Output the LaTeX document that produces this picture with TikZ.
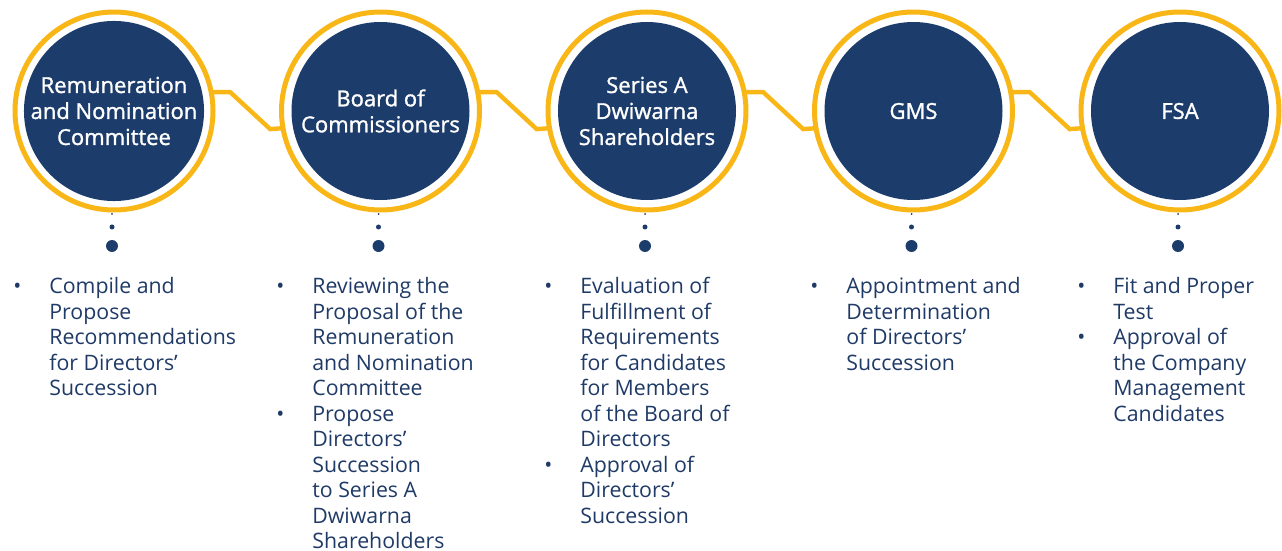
\documentclass[tikz,border=0pt]{standalone}
\usepackage{fontspec}
\setmainfont{Open Sans}
\newfontfamily\headfont[FakeBold=1.3]{Open Sans}
\definecolor{navy}{RGB}{28,60,108}
\definecolor{gold}{RGB}{248,183,22}
\definecolor{ink}{RGB}{31,58,102}
\newcommand{\bul}{\llap{\textbullet\hspace{14pt}}}

\begin{document}
\begin{tikzpicture}[x=0.5pt,y=-0.5pt,
	ring/.style={circle, draw=gold, fill=white, line width=2.5pt, minimum size=99pt, inner sep=0pt, outer sep=0pt},
	disc/.style={circle, fill=navy, minimum size=89pt, inner sep=0pt, text=white, align=center, font=\headfont\fontsize{11}{13}\selectfont},
	link/.style={draw=gold, line width=2.2pt},
	list/.style={anchor=north west, inner sep=0pt, align=left, text=ink, font=\fontsize{10.65}{12.75}\selectfont}]

	\useasboundingbox (0,0) rectangle (1282,551);

	\foreach \i/\x in {1/114, 2/380.5, 3/647, 4/913.5, 5/1180}{
		\node[ring] (r\i) at (\x,111) {};
		\fill[navy] (\x-2,214) circle (0.5pt);
		\fill[navy] (\x-2,227) circle (1.25pt);
		\fill[navy] (\x-2,246) circle (3pt);
	}

	\node[disc] (c1) at (r1) {Remuneration\\and Nomination\\Committee};
	\node[disc] (c2) at (r2) {Board of\\Commissioners};
	\node[disc] (c3) at (r3) {Series A\\Dwiwarna\\Shareholders};
	\node[disc] (c4) at (r4) {GMS};
	\node[disc] (c5) at (r5) {FSA};

	\foreach \i/\j in {1/2, 2/3, 3/4, 4/5}
		\draw[link] (r\i.11) -- ++(19,0) -- ++(40,37) -- (r\j.190);

	\node[list] (l1) at (49,277) {\bul Compile and\\Propose\\Recommendations\\for Directors’\\Succession};
	\node[list] (l2) at (312,277) {\bul Reviewing the\\Proposal of the\\Remuneration\\and Nomination\\Committee\\\bul Propose\\Directors’\\Succession\\to Series A\\Dwiwarna\\Shareholders};
	\node[list] (l3) at (580,277) {\bul Evaluation of\\Fulfillment of\\Requirements\\for Candidates\\for Members\\of the Board of\\Directors\\\bul Approval of\\Directors’\\Succession};
	\node[list] (l4) at (846,277) {\bul Appointment and\\Determination\\of Directors’\\Succession};
	\node[list] (l5) at (1113,277) {\bul Fit and Proper\\Test\\\bul Approval of\\the Company\\Management\\Candidates};
\end{tikzpicture}
\end{document}
